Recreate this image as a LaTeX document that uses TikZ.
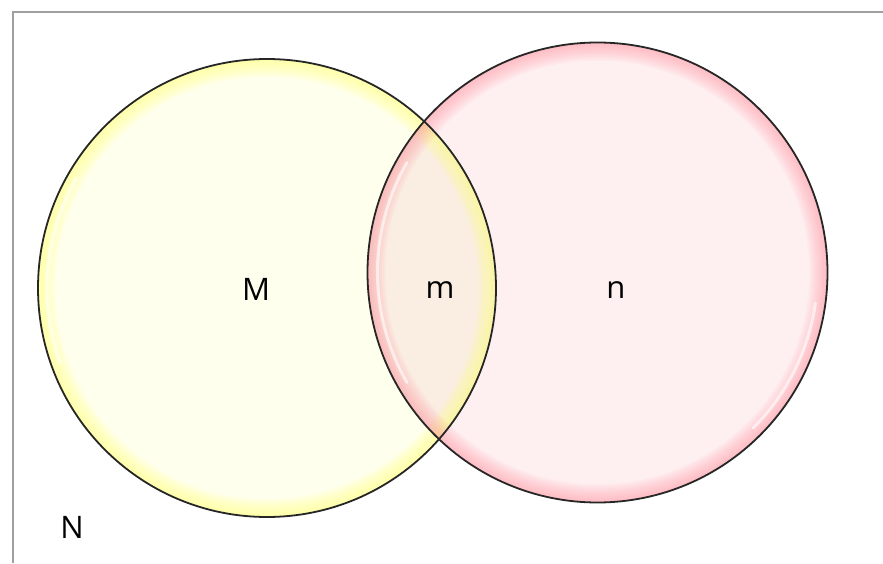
\documentclass[tikz,border=0pt]{standalone}
\usepackage{fontspec}
\setmainfont{Open Sans}
\definecolor{yfill}{HTML}{FFFFEE}
\definecolor{pfill}{HTML}{FEEFF0}
\definecolor{ifill}{HTML}{FAEEE2}
\definecolor{yglow}{HTML}{FFFF80}
\definecolor{pglow}{HTML}{FF8C9A}
\tikzset{
  lbl/.style={font=\fontsize{31}{34}\selectfont, text=black},
  frameline/.style={draw=gray!75, line width=1.3pt},
  outline/.style={draw=black!85, line width=1.8pt},
  highlight/.style={draw=white, opacity=0.6, line width=3pt, line cap=round},
}
\begin{document}
\begin{tikzpicture}[x=1pt,y=1pt]
\useasboundingbox (0,0) rectangle (883,563);
\fill[white] (0,0) rectangle (883,563);
\coordinate (yc) at (267,275);
\coordinate (pc) at (597.5,290.5);
\def\ry{229}
\def\rp{230}
% frame
\draw[frameline] (13,0) -- (13,551) -- (883,551);
% fills
\fill[yfill] (yc) circle (\ry);
\fill[pfill] (pc) circle (\rp);
\begin{scope}
  \clip (yc) circle (\ry);
  \fill[ifill] (pc) circle (\rp);
\end{scope}
% yellow glow
\begin{scope}
  \clip (yc) circle (\ry);
  \foreach \w in {36,32,...,4} {
    \draw[yglow, opacity=0.09, line width=\w pt] (yc) circle (\ry);
  }
  \draw[highlight] (yc) ++(200:{\ry-9}) arc (200:150:{\ry-9});
\end{scope}
% pink glow
\begin{scope}
  \clip (pc) circle (\rp);
  \foreach \w in {36,32,...,4} {
    \draw[pglow, opacity=0.065, line width=\w pt] (pc) circle (\rp);
  }
  \draw[highlight] (pc) ++(210:{\rp-10}) arc (210:150:{\rp-10});
  \draw[highlight] (pc) ++(-8:{\rp-10}) arc (-8:-45:{\rp-10});
\end{scope}
% outlines
\draw[outline] (yc) circle (\ry);
\draw[outline] (pc) circle (\rp);
% labels
\node[lbl] (M) at (256,274) {M};
\node[lbl] (m) at (440,273) {m};
\node[lbl] (n) at (616,273) {n};
\node[lbl] (N) at (72,36) {N};
\end{tikzpicture}
\end{document}
